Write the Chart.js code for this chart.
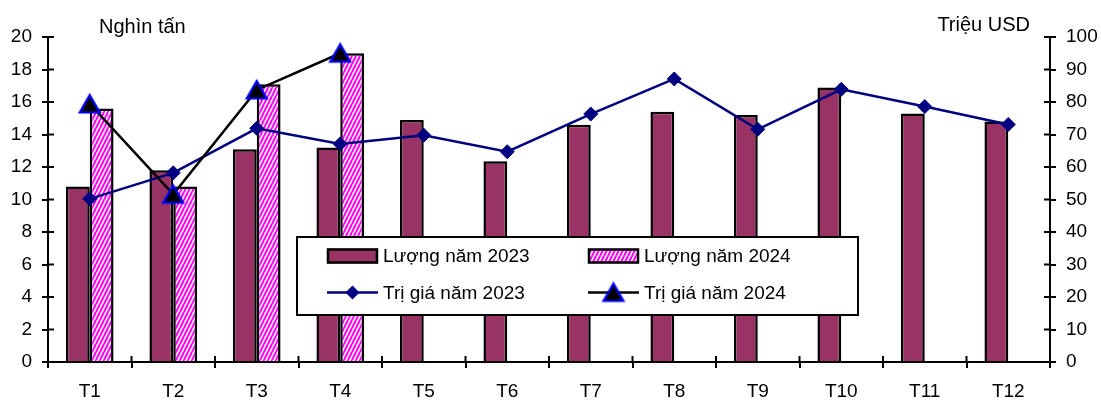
<!DOCTYPE html>
<html>
<head>
<meta charset="utf-8">
<script src="https://cdn.jsdelivr.net/npm/chart.js@4"></script>
<style>
  html, body { margin: 0; padding: 0; background: #fff; }
  #wrap { width: 1101px; height: 401px; }
</style>
</head>
<body>
<div id="wrap"><canvas id="c" width="1101" height="401"></canvas></div>
<script>
// Months
const months = ['T1','T2','T3','T4','T5','T6','T7','T8','T9','T10','T11','T12'];
// Volume, thousand tonnes (left axis)
const volume2023 = [10.8, 11.8, 13.1, 13.2, 14.9, 12.35, 14.6, 15.4, 15.2, 16.9, 15.3, 14.8];
const volume2024 = [15.6, 10.8, 17.1, 19.0, null, null, null, null, null, null, null, null];
// Value, million USD (right axis)
const value2023 = [50.2, 58.2, 71.9, 67.1, 69.8, 64.7, 76.3, 87.1, 71.6, 83.9, 78.6, 73.1];
const value2024 = [79.4, 51.6, 83.7, 95.0, null, null, null, null, null, null, null, null];
// Axis ticks
const leftTicks = [0, 2, 4, 6, 8, 10, 12, 14, 16, 18, 20];
const rightTicks = [0, 10, 20, 30, 40, 50, 60, 70, 80, 90, 100];

const FONT = '"Liberation Sans", Arial, sans-serif';

// Magenta upward-diagonal hatch for the 2024 bars
function hatch() {
  const t = document.createElement('canvas');
  t.width = 4; t.height = 8;
  const g = t.getContext('2d');
  g.fillStyle = '#ffffff';
  g.fillRect(0, 0, 4, 8);
  g.strokeStyle = '#ff00ff';
  g.lineWidth = 2.1;
  for (const x0 of [-4, 0, 4]) {
    g.beginPath();
    g.moveTo(x0, 8);
    g.lineTo(x0 + 4, 0);
    g.stroke();
  }
  return g.createPattern(t, 'repeat');
}

// Black triangle with blue outline, centred on its bounding box
function triangleMarker() {
  const t = document.createElement('canvas');
  t.width = 28; t.height = 28;
  const g = t.getContext('2d');
  const c = 14;
  g.beginPath();
  g.moveTo(c, c - 9);
  g.lineTo(c + 10, c + 8.5);
  g.lineTo(c - 10, c + 8.5);
  g.closePath();
  g.fillStyle = '#000000';
  g.fill();
  g.lineWidth = 2.2;
  g.lineJoin = 'miter';
  g.strokeStyle = '#0000ff';
  g.stroke();
  return t;
}

const hatchFill = hatch();
const triMark = triangleMarker();

// Inner halves of the tick marks (ticks cross the axis lines)
const crossTicks = {
  id: 'crossTicks',
  afterDraw(chart) {
    const ctx = chart.ctx;
    const { x, y, y1 } = chart.scales;
    const len = 6;
    ctx.save();
    ctx.strokeStyle = '#000';
    ctx.lineWidth = 2;
    ctx.beginPath();
    leftTicks.forEach(v => {
      const py = y.getPixelForValue(v);
      ctx.moveTo(y.right, py); ctx.lineTo(y.right + len, py);
    });
    rightTicks.forEach(v => {
      const py = y1.getPixelForValue(v);
      ctx.moveTo(y1.left, py); ctx.lineTo(y1.left - len, py);
    });
    const n = months.length;
    for (let i = 0; i <= n; i++) {
      const px = x.left + i * (x.width / n);
      ctx.moveTo(px, x.top); ctx.lineTo(px, x.top - len);
    }
    ctx.stroke();
    ctx.restore();
  }
};

// Unit captions above the two value axes
const unitTitles = {
  id: 'unitTitles',
  afterDraw(chart) {
    const ctx = chart.ctx;
    ctx.save();
    ctx.fillStyle = '#000';
    ctx.font = '20px ' + FONT;
    ctx.textBaseline = 'alphabetic';
    ctx.textAlign = 'left';
    ctx.fillText('Nghìn tấn', 99, 33);
    ctx.textAlign = 'right';
    ctx.fillText('Triệu USD', 1030, 31);
    ctx.restore();
  }
};

// Boxed two-by-two legend inside the plot
const boxLegend = {
  id: 'boxLegend',
  afterDraw(chart) {
    const ctx = chart.ctx;
    const ds = chart.data.datasets;
    const box = { l: 297, t: 237, r: 858, b: 315 };
    const cols = [327, 588];
    const rows = [256, 292.5];
    const sw = 51;
    ctx.save();
    ctx.fillStyle = '#fff';
    ctx.fillRect(box.l, box.t, box.r - box.l, box.b - box.t);
    ctx.strokeStyle = '#000';
    ctx.lineWidth = 2;
    ctx.strokeRect(box.l, box.t, box.r - box.l, box.b - box.t);
    ds.forEach((d, i) => {
      const cx = cols[i % 2], cy = rows[Math.floor(i / 2)];
      if (d.type === 'bar') {
        ctx.fillStyle = d.backgroundColor;
        ctx.fillRect(cx, cy - 7.5, sw, 15);
        ctx.strokeStyle = '#000';
        ctx.lineWidth = 2.5;
        ctx.strokeRect(cx + 1, cy - 6.5, sw - 2, 13);
      } else {
        ctx.strokeStyle = d.borderColor;
        ctx.lineWidth = d.borderWidth;
        ctx.beginPath();
        ctx.moveTo(cx, cy); ctx.lineTo(cx + sw, cy);
        ctx.stroke();
        const mx = cx + sw / 2;
        if (d.pointStyle === 'rectRot') {
          ctx.fillStyle = d.pointBackgroundColor;
          ctx.beginPath();
          ctx.moveTo(mx, cy - 7); ctx.lineTo(mx + 7, cy);
          ctx.lineTo(mx, cy + 7); ctx.lineTo(mx - 7, cy);
          ctx.closePath(); ctx.fill();
        } else {
          ctx.drawImage(d.pointStyle, mx - d.pointStyle.width / 2, cy - d.pointStyle.height / 2);
        }
      }
      ctx.fillStyle = '#000';
      ctx.font = '19px ' + FONT;
      ctx.textAlign = 'left';
      ctx.textBaseline = 'middle';
      ctx.fillText(d.label, cx + sw + 5, cy + 1);
    });
    ctx.restore();
  }
};

new Chart(document.getElementById('c'), {
  data: {
    labels: months,
    datasets: [
      {
        type: 'bar', label: 'Lượng năm 2023', data: volume2023, yAxisID: 'y',
        backgroundColor: '#993366', borderColor: '#000', borderWidth: 2.5,
        borderSkipped: 'bottom', order: 2,
        categoryPercentage: 0.57, barPercentage: 1.0
      },
      {
        type: 'bar', label: 'Lượng năm 2024', data: volume2024, yAxisID: 'y',
        backgroundColor: hatchFill, borderColor: '#000', borderWidth: 2.5,
        borderSkipped: 'bottom', order: 2,
        categoryPercentage: 0.57, barPercentage: 1.0
      },
      {
        type: 'line', label: 'Trị giá năm 2023', data: value2023, yAxisID: 'y1',
        borderColor: '#000080', borderWidth: 2.5,
        pointStyle: 'rectRot', pointRadius: 7, pointHoverRadius: 7,
        pointBackgroundColor: '#000080', pointBorderColor: '#000080', pointBorderWidth: 1,
        tension: 0, order: 1
      },
      {
        type: 'line', label: 'Trị giá năm 2024', data: value2024, yAxisID: 'y1',
        borderColor: '#000000', borderWidth: 2.5,
        pointStyle: triMark, pointRadius: 10, pointHoverRadius: 10,
        tension: 0, order: 0, spanGaps: false
      }
    ]
  },
  options: {
    responsive: false,
    animation: false,
    events: [],
    layout: { padding: { top: 37, left: 0, right: 0, bottom: 0 } },
    plugins: {
      legend: { display: false },
      tooltip: { enabled: false },
      title: { display: false }
    },
    scales: {
      x: {
        type: 'category',
        offset: true,
        grid: { display: true, drawOnChartArea: false, offset: true, tickLength: 6, color: '#000', lineWidth: 2 },
        border: { display: true, color: '#000', width: 2 },
        ticks: { color: '#000', font: { family: FONT, size: 19 }, padding: 12, maxRotation: 0, autoSkip: false },
        afterFit(s) { s.height = 39; }
      },
      y: {
        position: 'left', min: 0, max: 20,
        afterBuildTicks(s) { s.ticks = leftTicks.map(v => ({ value: v })); },
        grid: { display: true, drawOnChartArea: false, tickLength: 6, color: '#000', lineWidth: 2 },
        border: { display: true, color: '#000', width: 2 },
        ticks: { color: '#000', font: { family: FONT, size: 19 }, padding: 10 },
        afterFit(s) { s.width = 48; }
      },
      y1: {
        position: 'right', min: 0, max: 100,
        afterBuildTicks(s) { s.ticks = rightTicks.map(v => ({ value: v })); },
        grid: { display: true, drawOnChartArea: false, tickLength: 6, color: '#000', lineWidth: 2 },
        border: { display: true, color: '#000', width: 2 },
        ticks: { color: '#000', font: { family: FONT, size: 19 }, padding: 10 },
        afterFit(s) { s.width = 51; }
      }
    }
  },
  plugins: [crossTicks, unitTitles, boxLegend]
});
</script>
</body>
</html>
